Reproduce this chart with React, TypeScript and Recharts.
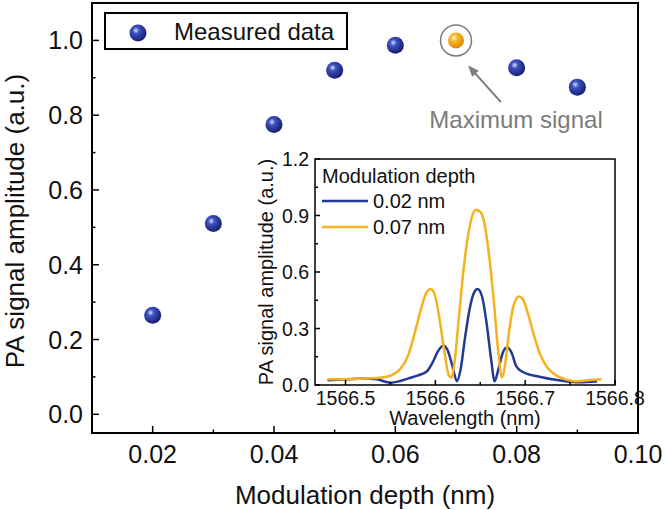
import React from "react";
import {
  ScatterChart,
  Scatter,
  LineChart,
  Line,
  XAxis,
  YAxis,
  ReferenceArea,
  ReferenceDot,
  ReferenceLine,
  Legend,
} from "recharts";

// ---------- main chart data ----------
const depthNm = [0.02, 0.03, 0.04, 0.05, 0.06, 0.08, 0.09];
const amplitude = [0.265, 0.51, 0.775, 0.92, 0.987, 0.927, 0.875];
const maxDepthNm = [0.07];
const maxAmplitude = [1.0];

const mainXMajor = [0.02, 0.04, 0.06, 0.08, 0.1];
const mainXMinor = [0.03, 0.05, 0.07, 0.09];
const mainYMajor = [0, 0.2, 0.4, 0.6, 0.8, 1.0];
const mainYMinor = [0.1, 0.3, 0.5, 0.7, 0.9];

// ---------- inset data ----------
const wl02 = [
  1566.48, 1566.5, 1566.52, 1566.535, 1566.55, 1566.56, 1566.57, 1566.58, 1566.59,
  1566.597, 1566.603, 1566.609, 1566.614, 1566.619, 1566.624, 1566.628, 1566.633,
  1566.638, 1566.643, 1566.647, 1566.652, 1566.657, 1566.662, 1566.666, 1566.67,
  1566.675, 1566.68, 1566.685, 1566.69, 1566.697, 1566.705, 1566.715, 1566.73,
  1566.745, 1566.76, 1566.78,
];
const amp02 = [
  0.025, 0.03, 0.035, 0.03, 0.012, 0.02, 0.035, 0.05, 0.07, 0.12, 0.18, 0.21, 0.18,
  0.1, 0.02, 0.08, 0.25, 0.4, 0.49, 0.51, 0.47, 0.33, 0.14, 0.02, 0.08, 0.17, 0.2,
  0.17, 0.1, 0.07, 0.055, 0.045, 0.03, 0.02, 0.015, 0.02,
];
const wl07 = [
  1566.48, 1566.5, 1566.52, 1566.54, 1566.55, 1566.56, 1566.57, 1566.575, 1566.58,
  1566.585, 1566.59, 1566.595, 1566.6, 1566.605, 1566.61, 1566.615, 1566.618,
  1566.622, 1566.626, 1566.63, 1566.635, 1566.64, 1566.645, 1566.65, 1566.655,
  1566.66, 1566.665, 1566.67, 1566.674, 1566.678, 1566.682, 1566.687, 1566.693,
  1566.698, 1566.703, 1566.71, 1566.716, 1566.725, 1566.735, 1566.745, 1566.755,
  1566.77, 1566.785,
];
const amp07 = [
  0.03, 0.03, 0.035, 0.04, 0.05, 0.08, 0.16, 0.24, 0.33, 0.42, 0.49, 0.51, 0.47, 0.34,
  0.18, 0.05, 0.04, 0.15, 0.35, 0.55, 0.75, 0.88, 0.93, 0.92, 0.85, 0.68, 0.45, 0.18,
  0.04, 0.12, 0.28, 0.42, 0.47, 0.45, 0.38, 0.26, 0.17, 0.09, 0.05, 0.03, 0.02, 0.025,
  0.03,
];

const insetXMajor = [1566.5, 1566.6, 1566.7, 1566.8];
const insetXMinor = [1566.55, 1566.65, 1566.75];
const insetYMajor = [0, 0.3, 0.6, 0.9, 1.2];
const insetYMinor = [0.15, 0.45, 0.75, 1.05];

const measured = depthNm.map((x, i) => ({ x, y: amplitude[i] }));
const maxPoint = maxDepthNm.map((x, i) => ({ x, y: maxAmplitude[i] }));
const series02 = wl02.map((w, i) => ({ w, a: amp02[i] }));
const series07 = wl07.map((w, i) => ({ w, a: amp07[i] }));

const FONT = "'Liberation Sans', Arial, Helvetica, sans-serif";
const BLUE_LINE = "#233a93";
const ORANGE_LINE = "#f4b21f";
const GRAY = "#7b7b7b";

const isIn = (arr: number[], v: number) => arr.some((m) => Math.abs(m - v) < 1e-7);
const sorted = (a: number[], b: number[]) => [...a, ...b].sort((p, q) => p - q);

// ---------- balls ----------
const Ball = ({ cx, cy, kind, r = 8.5 }: any) => {
  const id = kind === "orange" ? "ballOrange" : "ballBlue";
  return (
    <g>
      <defs>
        {kind === "orange" ? (
          <radialGradient id={id} cx="0.38" cy="0.35" r="0.7">
            <stop offset="0%" stopColor="#fff6d0" />
            <stop offset="30%" stopColor="#f9b92a" />
            <stop offset="100%" stopColor="#d98400" />
          </radialGradient>
        ) : (
          <radialGradient id={id} cx="0.38" cy="0.35" r="0.7">
            <stop offset="0%" stopColor="#d8e0ff" />
            <stop offset="28%" stopColor="#3d52c0" />
            <stop offset="100%" stopColor="#121a66" />
          </radialGradient>
        )}
      </defs>
      <circle cx={cx} cy={cy} r={r} fill={`url(#${id})`} />
    </g>
  );
};

// ---------- ticks ----------
const makeXTick =
  (major: number[], margin: number, fs: number, fmt: (v: number) => string, majLen: number, minLen: number) =>
  (props: any) => {
    const { x, y, payload } = props;
    const v = payload.value;
    const maj = isIn(major, v);
    const axisY = y - margin;
    return (
      <g>
        <line x1={x} x2={x} y1={axisY} y2={axisY - (maj ? majLen : minLen)} stroke="#000" strokeWidth={1.5} />
        {maj && (
          <text x={x} y={y + fs * 0.72} textAnchor="middle" fontSize={fs} fontFamily={FONT} fill="#111">
            {fmt(v)}
          </text>
        )}
      </g>
    );
  };

const makeYTick =
  (major: number[], margin: number, fs: number, fmt: (v: number) => string, majLen: number, minLen: number) =>
  (props: any) => {
    const { x, y, payload } = props;
    const v = payload.value;
    const maj = isIn(major, v);
    const axisX = x + margin;
    return (
      <g>
        <line x1={axisX} x2={axisX + (maj ? majLen : minLen)} y1={y} y2={y} stroke="#000" strokeWidth={1.5} />
        {maj && (
          <text x={x} y={y + fs * 0.36} textAnchor="end" fontSize={fs} fontFamily={FONT} fill="#111">
            {fmt(v)}
          </text>
        )}
      </g>
    );
  };

const mainXTick = makeXTick(mainXMajor, 12, 25, (v) => v.toFixed(2), 7, 3.5);
const mainYTick = makeYTick(mainYMajor, 9, 25, (v) => v.toFixed(1), 7, 3.5);
const insetXTick = makeXTick(insetXMajor, 6, 19.5, (v) => v.toFixed(1), 5, 3);
const insetYTick = makeYTick(insetYMajor, 6, 19.5, (v) => v.toFixed(1), 5, 3);

// ---------- annotation shapes ----------
const Arrow = (props: any) => {
  const { x1, y1, x2, y2 } = props;
  if ([x1, y1, x2, y2].some((v) => typeof v !== "number")) return null;
  const dx = x2 - x1;
  const dy = y2 - y1;
  const len = Math.hypot(dx, dy) || 1;
  const ux = dx / len;
  const uy = dy / len;
  const hl = 11;
  const hw = 4.5;
  const bx = x2 - ux * hl;
  const by = y2 - uy * hl;
  return (
    <g>
      <line x1={x1} y1={y1} x2={bx + ux * 2} y2={by + uy * 2} stroke={GRAY} strokeWidth={2} />
      <polygon
        points={`${x2},${y2} ${bx - uy * hw},${by + ux * hw} ${bx + uy * hw},${by - ux * hw}`}
        fill={GRAY}
      />
    </g>
  );
};

const MaxText = (props: any) => (
  <text x={props.cx} y={props.cy} textAnchor="middle" fontSize={24} fontFamily={FONT} fill={GRAY}>
    Maximum signal
  </text>
);

const MainLegend = () => (
  <div
    style={{
      border: "2px solid #000",
      width: 244,
      height: 38,
      boxSizing: "border-box",
      background: "#fff",
      position: "relative",
      fontFamily: FONT,
      whiteSpace: "nowrap",
    }}
  >
    <svg width={40} height={34} style={{ position: "absolute", left: 14, top: 2 }}>
      <Ball cx={18} cy={17} kind="blue" />
    </svg>
    <span style={{ position: "absolute", left: 68, top: 5, fontSize: 24, lineHeight: "26px", color: "#111" }}>
      Measured data
    </span>
  </div>
);

const InsetLegend = () => (
  <svg width={200} height={80}>
    <text x={0} y={19} fontSize={20} fontFamily={FONT} fill="#111">
      Modulation depth
    </text>
    <line x1={0} x2={46} y1={37} y2={37} stroke={BLUE_LINE} strokeWidth={2.5} />
    <text x={51} y={44} fontSize={20} fontFamily={FONT} fill="#111">
      0.02 nm
    </text>
    <line x1={0} x2={46} y1={63} y2={63} stroke={ORANGE_LINE} strokeWidth={2.5} />
    <text x={51} y={70} fontSize={20} fontFamily={FONT} fill="#111">
      0.07 nm
    </text>
  </svg>
);

export default function App() {
  return (
    <div style={{ position: "absolute", left: 0, top: 0, width: 665, height: 510, background: "#fff" }}>
      <div style={{ position: "absolute", left: 0, top: 0 }}>
        <ScatterChart width={665} height={510} margin={{ top: 3, right: 27, bottom: 0, left: 0 }}>
          <XAxis
            type="number"
            dataKey="x"
            domain={[0.01, 0.1]}
            allowDataOverflow
            ticks={sorted(mainXMajor, mainXMinor)}
            interval={0}
            axisLine={false}
            tickLine={false}
            tickSize={0}
            tickMargin={12}
            height={77}
            tick={mainXTick}
            label={(p: any) => {
              const vb = p.viewBox;
              return (
                <text x={vb.x + vb.width / 2} y={504} textAnchor="middle" fontSize={26} fontFamily={FONT} fill="#111">
                  Modulation depth (nm)
                </text>
              );
            }}
          />
          <YAxis
            type="number"
            dataKey="y"
            domain={[-0.05, 1.1]}
            allowDataOverflow
            ticks={sorted(mainYMajor, mainYMinor)}
            interval={0}
            axisLine={false}
            tickLine={false}
            tickSize={0}
            tickMargin={9}
            width={92}
            tick={mainYTick}
            label={(p: any) => {
              const vb = p.viewBox;
              const cy = vb.y + vb.height / 2 + 3;
              return (
                <text
                  x={15}
                  y={cy}
                  transform={`rotate(-90 15 ${cy})`}
                  textAnchor="middle"
                  dominantBaseline="central"
                  fontSize={26}
                  fontFamily={FONT}
                  fill="#111"
                >
                  PA signal amplitude (a.u.)
                </text>
              );
            }}
          />
          <ReferenceArea
            x1={0.01}
            x2={0.1}
            y1={-0.05}
            y2={1.1}
            fill="none"
            fillOpacity={0}
            stroke="#000"
            strokeWidth={2}
            ifOverflow="visible"
          />
          <Scatter
            data={measured}
            isAnimationActive={false}
            shape={(p: any) => <Ball cx={p.cx} cy={p.cy} kind="blue" />}
          />
          <Scatter
            data={maxPoint}
            isAnimationActive={false}
            shape={(p: any) => <Ball cx={p.cx} cy={p.cy} kind="orange" r={8} />}
          />
          <ReferenceDot x={0.07} y={1.0} r={15.5} fill="none" stroke={GRAY} strokeWidth={1.5} ifOverflow="visible" />
          <ReferenceLine
            segment={[
              { x: 0.0774, y: 0.835 },
              { x: 0.072, y: 0.933 },
            ]}
            ifOverflow="visible"
            shape={Arrow}
          />
          <ReferenceDot x={0.0799} y={0.765} r={1} ifOverflow="visible" shape={MaxText} />
          <Legend
            layout="vertical"
            align="center"
            verticalAlign="middle"
            wrapperStyle={{ left: 104, top: 12, width: 244, height: 38 }}
            content={() => <MainLegend />}
          />
        </ScatterChart>
      </div>

      <div style={{ position: "absolute", left: 250, top: 140 }}>
        <LineChart width={410} height={290} margin={{ top: 19, right: 45, bottom: 0, left: 0 }}>
          <XAxis
            type="number"
            dataKey="w"
            domain={[1566.466, 1566.8]}
            allowDataOverflow
            ticks={sorted(insetXMajor, insetXMinor)}
            interval={0}
            axisLine={false}
            tickLine={false}
            tickSize={0}
            tickMargin={6}
            height={45}
            tick={insetXTick}
            label={(p: any) => {
              const vb = p.viewBox;
              return (
                <text x={vb.x + vb.width / 2} y={285} textAnchor="middle" fontSize={20} fontFamily={FONT} fill="#111">
                  Wavelength (nm)
                </text>
              );
            }}
          />
          <YAxis
            type="number"
            dataKey="a"
            domain={[0, 1.2]}
            allowDataOverflow
            ticks={sorted(insetYMajor, insetYMinor)}
            interval={0}
            axisLine={false}
            tickLine={false}
            tickSize={0}
            tickMargin={6}
            width={65}
            tick={insetYTick}
            label={(p: any) => {
              const vb = p.viewBox;
              const cy = vb.y + vb.height / 2;
              return (
                <text
                  x={16}
                  y={cy}
                  transform={`rotate(-90 16 ${cy})`}
                  textAnchor="middle"
                  dominantBaseline="central"
                  fontSize={20}
                  fontFamily={FONT}
                  fill="#111"
                >
                  PA signal amplitude (a.u.)
                </text>
              );
            }}
          />
          <ReferenceArea
            x1={1566.466}
            x2={1566.8}
            y1={0}
            y2={1.2}
            fill="#fff"
            fillOpacity={1}
            stroke="#000"
            strokeWidth={1.5}
            ifOverflow="visible"
          />
          <Line
            data={series02}
            dataKey="a"
            type="monotone"
            stroke={BLUE_LINE}
            strokeWidth={2.5}
            dot={false}
            isAnimationActive={false}
          />
          <Line
            data={series07}
            dataKey="a"
            type="monotone"
            stroke={ORANGE_LINE}
            strokeWidth={2.5}
            dot={false}
            isAnimationActive={false}
          />
          <Legend
            layout="vertical"
            align="center"
            verticalAlign="middle"
            wrapperStyle={{ left: 72, top: 24, width: 200, height: 80 }}
            content={() => <InsetLegend />}
          />
        </LineChart>
      </div>
    </div>
  );
}
